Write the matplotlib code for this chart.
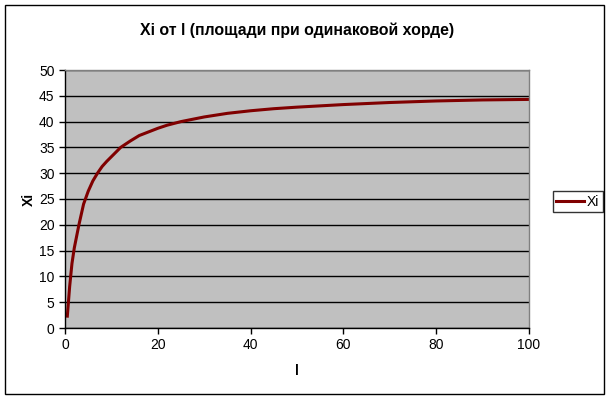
import matplotlib
matplotlib.use("Agg")
import matplotlib.pyplot as plt
from matplotlib.patches import Rectangle

l_values = [0.5, 1, 1.5, 2, 3, 4, 5, 6, 7, 8, 9, 10, 12, 14, 16, 18, 20, 22, 25,
            30, 35, 40, 45, 50, 60, 70, 80, 90, 100]
xi_values = [2.3, 8.0, 12.5, 15.5, 20.0, 24.0, 26.5, 28.5, 30.0, 31.3, 32.3, 33.2,
             35.0, 36.2, 37.3, 38.0, 38.7, 39.3, 40.0, 40.9, 41.6, 42.1, 42.5, 42.8,
             43.3, 43.7, 44.0, 44.2, 44.3]
x_ticks = [0, 20, 40, 60, 80, 100]
y_ticks = [0, 5, 10, 15, 20, 25, 30, 35, 40, 45, 50]

plt.rcParams['font.family'] = ['Liberation Sans', 'DejaVu Sans']

fig = plt.figure(figsize=(6.1, 4.0), dpi=100)
fig.patch.set_facecolor('white')
fig.patches.append(Rectangle((5 / 610, 6 / 400), 599 / 610, 389 / 400,
                             transform=fig.transFigure, fill=False,
                             edgecolor='black', linewidth=1.0))

ax = fig.add_axes([65 / 610, 1 - 328 / 400, 464 / 610, 258 / 400])
ax.set_facecolor('#C0C0C0')
ax.plot(l_values, xi_values, color='#800000', linewidth=2.2, label='Xi')
ax.set_xlim(0, 100)
ax.set_ylim(0, 50)
ax.set_xticks(x_ticks)
ax.set_yticks(y_ticks)
ax.yaxis.grid(True, color='black', linewidth=1.0)
ax.set_axisbelow(True)
for s in ['top', 'right']:
    ax.spines[s].set_color('#808080')
    ax.spines[s].set_linewidth(1.0)
for s in ['left', 'bottom']:
    ax.spines[s].set_color('black')
    ax.spines[s].set_linewidth(1.0)
ax.tick_params(direction='out', length=4, width=1, labelsize=10, colors='black')
ax.set_title('Xi от l (площади при одинаковой хорде)', fontsize=11.4,
             fontweight='bold', pad=25)
ax.set_xlabel('l', fontsize=10, fontweight='bold', labelpad=8)
ax.set_ylabel('Xi', fontsize=10, fontweight='bold', labelpad=2)

leg = ax.legend(loc='center left', bbox_to_anchor=((553 - 65) / 464, 0.49),
                frameon=True, fancybox=False, edgecolor='black', fontsize=10,
                handlelength=2.0, borderpad=0.25, handletextpad=0.2,
                borderaxespad=0)
leg.get_frame().set_linewidth(1.0)

fig.savefig('out.png', dpi=100, facecolor='white')
